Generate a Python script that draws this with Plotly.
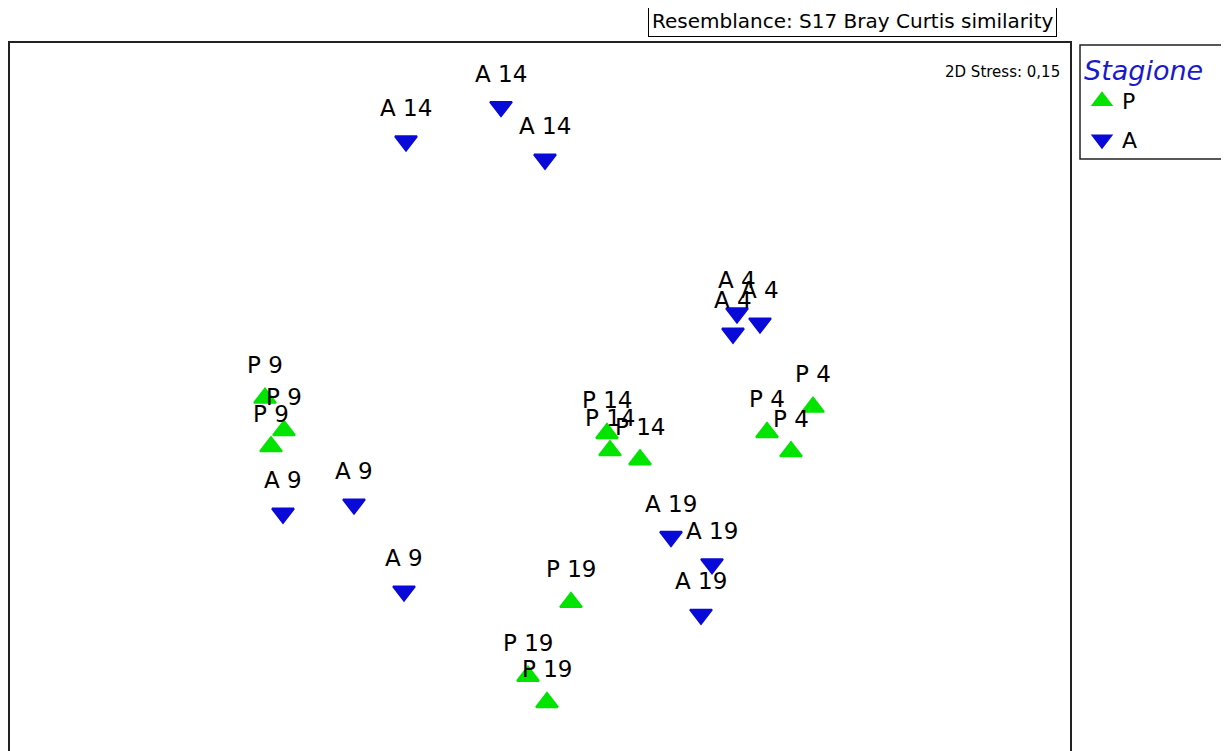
import plotly.graph_objects as go

# nMDS coordinates (arbitrary units)
p_labels = ["P 9", "P 9", "P 9", "P 14", "P 14", "P 14", "P 4", "P 4", "P 4", "P 19", "P 19", "P 19"]
p_x = [-1.100, -1.024, -1.076, 0.268, 0.280, 0.400, 1.092, 0.908, 1.004, 0.124, -0.048, 0.028]
p_y = [0.024, -0.104, -0.168, -0.116, -0.184, -0.220, -0.012, -0.112, -0.188, -0.784, -1.076, -1.180]

a_labels = ["A 14", "A 14", "A 14", "A 4", "A 4", "A 4", "A 9", "A 9", "A 9", "A 19", "A 19", "A 19"]
a_x = [-0.536, -0.156, 0.020, 0.788, 0.880, 0.772, -1.028, -0.744, -0.544, 0.524, 0.688, 0.644]
a_y = [1.040, 1.176, 0.968, 0.360, 0.320, 0.280, -0.432, -0.396, -0.740, -0.524, -0.632, -0.832]

GREEN = "#00e400"
BLUE = "#0a0ad8"
FONT = "DejaVu Sans"
OFF = 8  # page body margin
W, H = 1229 - OFF, 751 - OFF


def px(x):
    return (x - OFF) / W


def py(y):
    return 1 - (y - OFF) / H


fig = go.Figure()
fig.add_trace(go.Scatter(
    x=p_x, y=p_y, mode="markers", name="P", legendgroup="P",
    marker=dict(symbol="triangle-up", size=19, color=GREEN, line=dict(color=GREEN, width=2)),
))
fig.add_trace(go.Scatter(
    x=a_x, y=a_y, mode="markers", name="A", legendgroup="A",
    marker=dict(symbol="triangle-down", size=19, color=BLUE, line=dict(color=BLUE, width=2)),
))

annotations = []
for xs, ys, labs in [(p_x, p_y, p_labels), (a_x, a_y, a_labels)]:
    for x, y, t in zip(xs, ys, labs):
        annotations.append(dict(
            x=x, y=y, xref="x", yref="y", text=t, showarrow=False,
            yshift=33, xanchor="center", yanchor="middle",
            font=dict(family=FONT, size=23, color="black"),
        ))

annotations.append(dict(
    x=px(1062), y=py(72), xref="paper", yref="paper", text="2D Stress: 0,15",
    showarrow=False, xanchor="right", yanchor="middle",
    font=dict(family=FONT, size=15, color="black"),
))
annotations.append(dict(
    x=px(1057), y=py(21), xref="paper", yref="paper",
    text="Resemblance: S17 Bray Curtis similarity",
    showarrow=False, xanchor="right", yanchor="middle",
    bordercolor="black", borderwidth=1, borderpad=3, bgcolor="white",
    font=dict(family=FONT, size=20, color="black"),
))

shapes = [
    dict(type="rect", xref="paper", yref="paper", x0=1 / W, x1=px(1071),
         y0=-0.03, y1=py(42), line=dict(color="#222", width=2)),
    dict(type="rect", xref="paper", yref="paper", x0=px(1080), x1=1.05,
         y0=py(159), y1=py(45), line=dict(color="#222", width=1.5)),
]

# data axis: reference pixel 7 <-> -2.132, pixel 1071 <-> 2.124 (0.004 per px)
fig.update_layout(
    width=W, height=H,
    margin=dict(l=0, r=0, t=0, b=0),
    paper_bgcolor="white", plot_bgcolor="white",
    xaxis=dict(domain=[0, px(1071)], range=[-2.128, 2.124], visible=False),
    yaxis=dict(domain=[0, py(42)], range=[-1.372, 1.432], visible=False),
    showlegend=True,
    legend=dict(
        x=px(1082), xanchor="left", y=py(45), yanchor="top",
        bgcolor="rgba(0,0,0,0)", borderwidth=0,
        title=dict(text="Stagione", font=dict(family=FONT, size=27, color="#1a1ac8", style="italic")),
        font=dict(family=FONT, size=22, color="black"),
        tracegroupgap=7,
    ),
    annotations=annotations,
    shapes=shapes,
)

fig.write_html("out.html")
